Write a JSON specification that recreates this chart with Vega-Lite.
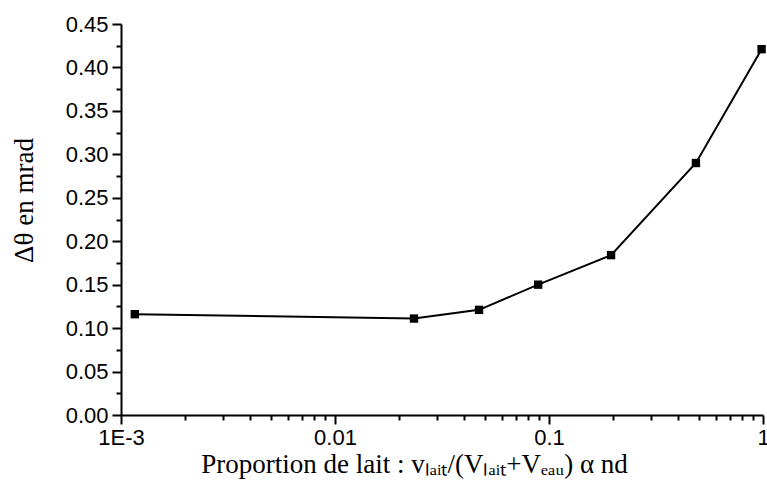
{
  "$schema": "https://vega.github.io/schema/vega-lite/v6.json",
  "width": 642,
  "height": 391,
  "autosize": {"type": "none"},
  "padding": {"left": 121, "top": 24, "right": 4, "bottom": 75},
  "background": "white",
  "config": {"view": {"stroke": null}},
  "data": {
    "values": [
      {"p": 0.00116, "d": 0.116},
      {"p": 0.0234, "d": 0.111},
      {"p": 0.0471, "d": 0.121},
      {"p": 0.089, "d": 0.150},
      {"p": 0.195, "d": 0.184},
      {"p": 0.486, "d": 0.290},
      {"p": 0.985, "d": 0.421}
    ]
  },
  "encoding": {
    "x": {
      "field": "p",
      "type": "quantitative",
      "scale": {"type": "log", "domain": [0.001, 1], "nice": false},
      "axis": {
        "title": "Proportion de lait : vₗₐᵢₜ/(Vₗₐᵢₜ+Vₑₐᵤ)  α  nd",
        "titleFont": "Liberation Serif",
        "titleFontSize": 27,
        "titleFontWeight": "normal",
        "titleColor": "black",
        "titlePadding": 3,
        "titleX": 293,
        "titleAlign": "center",
        "values": [0.001, 0.002, 0.003, 0.004, 0.005, 0.006, 0.007, 0.008, 0.009, 0.01, 0.02, 0.03, 0.04, 0.05, 0.06, 0.07, 0.08, 0.09, 0.1, 0.2, 0.3, 0.4, 0.5, 0.6, 0.7, 0.8, 0.9, 1],
        "labelExpr": "datum.value==0.001?'1E-3':datum.value==0.01?'0.01':datum.value==0.1?'0.1':datum.value==1?'1':''",
        "labelFont": "Liberation Sans",
        "labelFontSize": 22,
        "labelColor": "black",
        "labelPadding": 3,
        "labelOverlap": false,
        "labelFlush": false,
        "labelBound": false,
        "domainColor": "black",
        "domainWidth": 2,
        "tickColor": "black",
        "tickWidth": 2,
        "tickSize": {"condition": {"test": "abs(log(datum.value)/LN10 - round(log(datum.value)/LN10)) < 0.001", "value": 9}, "value": 5},
        "grid": false
      }
    },
    "y": {
      "field": "d",
      "type": "quantitative",
      "scale": {"domain": [0, 0.45], "nice": false, "zero": true},
      "axis": {
        "title": "Δθ en mrad",
        "titleFont": "Liberation Serif",
        "titleFontSize": 27,
        "titleFontWeight": "normal",
        "titleColor": "black",
        "titlePadding": 27,
        "titleY": 176,
        "titleAlign": "center",
        "values": [0, 0.025, 0.05, 0.075, 0.1, 0.125, 0.15, 0.175, 0.2, 0.225, 0.25, 0.275, 0.3, 0.325, 0.35, 0.375, 0.4, 0.425, 0.45],
        "labelExpr": "abs(datum.value*20 - round(datum.value*20)) < 0.01 ? format(datum.value, '.2f') : ''",
        "labelFont": "Liberation Sans",
        "labelFontSize": 22,
        "labelColor": "black",
        "labelPadding": 4,
        "labelOverlap": false,
        "labelFlush": false,
        "labelBound": false,
        "domainColor": "black",
        "domainWidth": 2,
        "tickColor": "black",
        "tickWidth": 2,
        "tickSize": {"condition": {"test": "abs(datum.value*20 - round(datum.value*20)) < 0.01", "value": 9}, "value": 5},
        "grid": false
      }
    }
  },
  "layer": [
    {"mark": {"type": "line", "color": "black", "strokeWidth": 2}},
    {"mark": {"type": "square", "color": "black", "filled": true, "opacity": 1, "size": 70}}
  ]
}
